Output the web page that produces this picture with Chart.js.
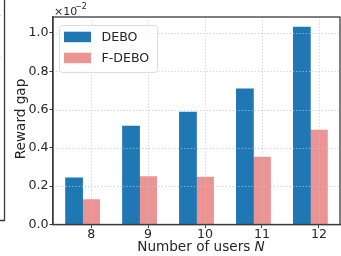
<!DOCTYPE html>
<html>
<head>
<meta charset="utf-8">
<script src="https://cdn.jsdelivr.net/npm/chart.js@4"></script>
<style>
  html, body { margin: 0; padding: 0; background: #fff; }
  #wrap { width: 341px; height: 256px; position: relative; }
</style>
</head>
<body>
<div id="wrap"><canvas id="c" width="341" height="256"></canvas></div>
<script>
// data (units of 1e-2)
const users = [8, 9, 10, 11, 12];
const debo = [0.243, 0.514, 0.587, 0.708, 1.031];
const fdebo = [0.13, 0.25, 0.248, 0.352, 0.493];
const seriesNames = ['DEBO', 'F-DEBO'];
const seriesColors = ['#1f77b4', '#ec9494'];
const yTicks = [0, 0.2, 0.4, 0.6, 0.8, 1.0];
const xTicks = users;

const FONT = 'DejaVu Sans';
const TEXT = '#262626';
const SPINE = '#3a3a3a';

// gridlines over the bars, frame, legend, titles, offset text
const overlay = {
  id: 'overlay',
  afterDatasetsDraw(chart) {
    const ctx = chart.ctx;
    const a = chart.chartArea;
    const xs = chart.scales.x, ys = chart.scales.y;
    ctx.save();
    ctx.strokeStyle = '#c4c4c4';
    ctx.lineWidth = 0.8;
    ctx.setLineDash([1.2, 2]);
    yTicks.forEach(v => {
      if (v === 0) return;
      const y = Math.round(ys.getPixelForValue(v)) + 0.5;
      ctx.beginPath(); ctx.moveTo(a.left, y); ctx.lineTo(a.right, y); ctx.stroke();
    });
    xTicks.forEach(v => {
      const x = Math.round(xs.getPixelForValue(v)) + 0.5;
      ctx.beginPath(); ctx.moveTo(x, a.top); ctx.lineTo(x, a.bottom); ctx.stroke();
    });
    // bit of the neighbouring panel at the far left
    [15, 57].forEach(y => {
      ctx.beginPath(); ctx.moveTo(0, y + 0.5); ctx.lineTo(3, y + 0.5); ctx.stroke();
    });
    ctx.setLineDash([]);
    ctx.strokeStyle = SPINE;
    ctx.lineWidth = 1.3;
    ctx.beginPath(); ctx.moveTo(4.5, 0); ctx.lineTo(4.5, 220.5); ctx.lineTo(0, 220.5); ctx.stroke();
    ctx.strokeRect(a.left, a.top, a.right - a.left, a.bottom - a.top);

    // legend
    const lx = 59, ly = 25, lw = 98, lh = 47, r = 3;
    ctx.fillStyle = 'rgba(255,255,255,0.8)';
    ctx.strokeStyle = '#dcdcdc';
    ctx.lineWidth = 1;
    ctx.beginPath();
    ctx.roundRect(lx + 0.5, ly + 0.5, lw, lh, r);
    ctx.fill(); ctx.stroke();
    ctx.font = '12.6px ' + FONT;
    ctx.textBaseline = 'middle';
    ctx.textAlign = 'left';
    chart.data.datasets.forEach((ds, i) => {
      const cy = 37 + i * 21;
      ctx.fillStyle = ds.backgroundColor;
      ctx.fillRect(64, cy - 5.3, 27, 10.5);
      ctx.fillStyle = TEXT;
      ctx.fillText(ds.label, 101.5, cy + 0.5);
    });

    // offset text
    ctx.fillStyle = TEXT;
    ctx.textBaseline = 'alphabetic';
    ctx.font = '11px ' + FONT;
    ctx.fillText('×10', 54, 15);
    ctx.font = '8px ' + FONT;
    ctx.fillText('−2', 75, 9);

    // axis titles
    const TS = '13.6px ';
    ctx.textBaseline = 'middle';
    const t1 = 'Number of users ';
    ctx.font = TS + FONT;
    const w1 = ctx.measureText(t1).width;
    ctx.font = 'italic ' + TS + FONT;
    const w2 = ctx.measureText('N').width;
    const sx = 201 - (w1 + w2) / 2;
    ctx.font = TS + FONT;
    ctx.fillText(t1, sx, 247.5);
    ctx.font = 'italic ' + TS + FONT;
    ctx.fillText('N', sx + w1, 247.5);

    ctx.translate(21, 119);
    ctx.rotate(-Math.PI / 2);
    ctx.textAlign = 'center';
    ctx.font = TS + FONT;
    ctx.fillText('Reward gap', 0, 0);
    ctx.restore();
  }
};

new Chart(document.getElementById('c'), {
  type: 'bar',
  data: {
    datasets: [
      {
        label: seriesNames[0],
        data: users.map((n, i) => ({ x: n - 0.3, y: debo[i] })),
        backgroundColor: seriesColors[0],
        borderWidth: 0
      },
      {
        label: seriesNames[1],
        data: users.map((n, i) => ({ x: n, y: fdebo[i] })),
        backgroundColor: seriesColors[1],
        borderWidth: 0
      }
    ]
  },
  options: {
    responsive: false,
    animation: false,
    grouped: false,
    barPercentage: 1,
    categoryPercentage: 1,
    layout: { padding: { top: 17, right: 1, left: 0, bottom: 0 } },
    plugins: { legend: { display: false }, tooltip: { enabled: false } },
    scales: {
      x: {
        type: 'linear',
        offset: false,
        min: 7.33,
        max: 12.37,
        afterBuildTicks: s => { s.ticks = xTicks.map(v => ({ value: v })); },
        afterFit: s => { s.height = 31.5; },
        grid: { offset: false, drawOnChartArea: false, drawTicks: true, tickLength: 3.5, tickColor: SPINE, tickWidth: 1 },
        border: { display: true, color: SPINE, width: 1.3 },
        ticks: { color: TEXT, font: { family: FONT, size: 12.6 }, padding: -1, maxRotation: 0, callback: v => String(v) }
      },
      y: {
        min: 0,
        max: 1.083,
        afterBuildTicks: s => { s.ticks = yTicks.map(v => ({ value: v })); },
        afterFit: s => { s.width = 53; },
        grid: { drawOnChartArea: false, drawTicks: true, tickLength: 3.5, tickColor: SPINE, tickWidth: 1 },
        border: { display: true, color: SPINE, width: 1.3 },
        ticks: { color: TEXT, font: { family: FONT, size: 12.6 }, padding: 1, callback: v => v.toFixed(1) }
      }
    }
  },
  plugins: [overlay]
});
</script>
</body>
</html>
